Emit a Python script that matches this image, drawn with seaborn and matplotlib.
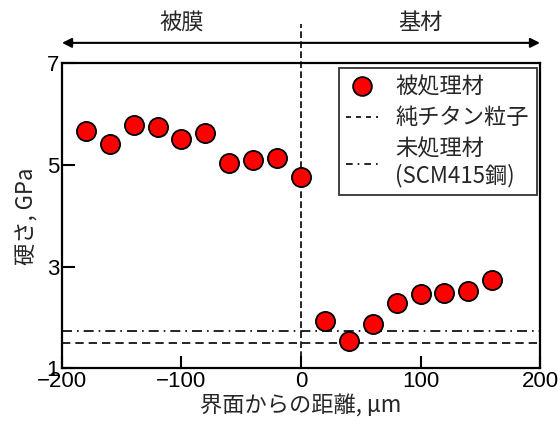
import matplotlib
matplotlib.use("Agg")
import matplotlib.pyplot as plt
import seaborn as sns
import pandas as pd
from matplotlib.lines import Line2D

# ---- data ----
distance_um = [-180, -160, -140, -120, -100, -80, -60, -40, -20, 0,
               20, 40, 60, 80, 100, 120, 140, 160]
hardness_gpa = [5.67, 5.41, 5.79, 5.74, 5.52, 5.63, 5.04, 5.10, 5.13, 4.76,
                1.93, 1.54, 1.87, 2.28, 2.47, 2.48, 2.53, 2.74]
pure_ti = 1.50          # 純チタン粒子
untreated = 1.74        # 未処理材 (SCM415鋼)
x_ticks = [-200, -100, 0, 100, 200]
y_ticks = [1, 3, 5, 7]
region_labels = ["被膜", "基材"]
region_pos = [-100, 100]
legend_labels = ["被処理材", "純チタン粒子", "未処理材\n(SCM415鋼)"]

df = pd.DataFrame({"x": distance_um, "y": hardness_gpa})

sns.set_style("ticks")
plt.rcParams["font.family"] = ["Liberation Sans", "Noto Sans CJK JP", "DejaVu Sans"]
plt.rcParams["axes.unicode_minus"] = True

FS = 16
CJK = ["Noto Sans CJK JP", "Liberation Sans"]

fig = plt.figure(figsize=(5.6, 4.26), dpi=100)
ax = fig.add_axes([0.1107, 0.1354, 0.8536, 0.716])

ax.axhline(untreated, color="black", lw=1.2, ls=(0, (6, 3, 1, 3)), zorder=1)
ax.axhline(pure_ti, color="black", lw=1.2, ls=(0, (5, 3)), zorder=1)
ax.axvline(0, ymin=0, ymax=1.13, color="black", lw=1.2, ls=(0, (4, 2)),
           clip_on=False, zorder=1)

sns.scatterplot(data=df, x="x", y="y", ax=ax, s=190, color="#ff0000",
                edgecolor="black", linewidth=1.3, zorder=3, legend=False)

ax.set_xlim(-200, 200)
ax.set_ylim(1, 7)
ax.set_xticks(x_ticks)
ax.set_yticks(y_ticks)
ax.tick_params(direction="in", length=9, width=1.5, labelsize=FS, colors="black",
               pad=2)
for s in ax.spines.values():
    s.set_linewidth(1.6)
    s.set_color("black")

ax.set_xlabel("界面からの距離, µm", fontsize=FS, labelpad=2, family=CJK)
ax.set_ylabel("硬さ, GPa", fontsize=FS, labelpad=6, family=CJK)

# top double arrow and region labels
ax.annotate("", xy=(-200, 1.067), xytext=(200, 1.067),
            xycoords=("data", "axes fraction"), textcoords=("data", "axes fraction"),
            arrowprops=dict(arrowstyle="<|-|>", color="black", lw=1.5,
                            mutation_scale=14, shrinkA=0, shrinkB=0),
            annotation_clip=False)
for lab, xp in zip(region_labels, region_pos):
    ax.text(xp, 1.135, lab, transform=ax.get_xaxis_transform(), ha="center",
            va="center", fontsize=FS, family=["Noto Sans CJK JP"])

handles = [
    Line2D([], [], ls="none", marker="o", markersize=13.5, markerfacecolor="#ff0000",
           markeredgecolor="black", markeredgewidth=1.3),
    Line2D([], [], color="black", lw=1.2, ls=(0, (3, 3))),
    Line2D([], [], color="black", lw=1.2, ls=(0, (4, 3, 1, 3))),
]
leg = ax.legend(handles, legend_labels, loc="upper right", bbox_to_anchor=(0.993, 0.985),
                frameon=True, fancybox=False, edgecolor="black",
                handlelength=1.4, handletextpad=0.8, borderpad=0.35,
                labelspacing=0.35, borderaxespad=0.0,
                prop={"family": CJK, "size": FS})
leg.get_frame().set_linewidth(1.3)

fig.savefig("out.png", dpi=100)
